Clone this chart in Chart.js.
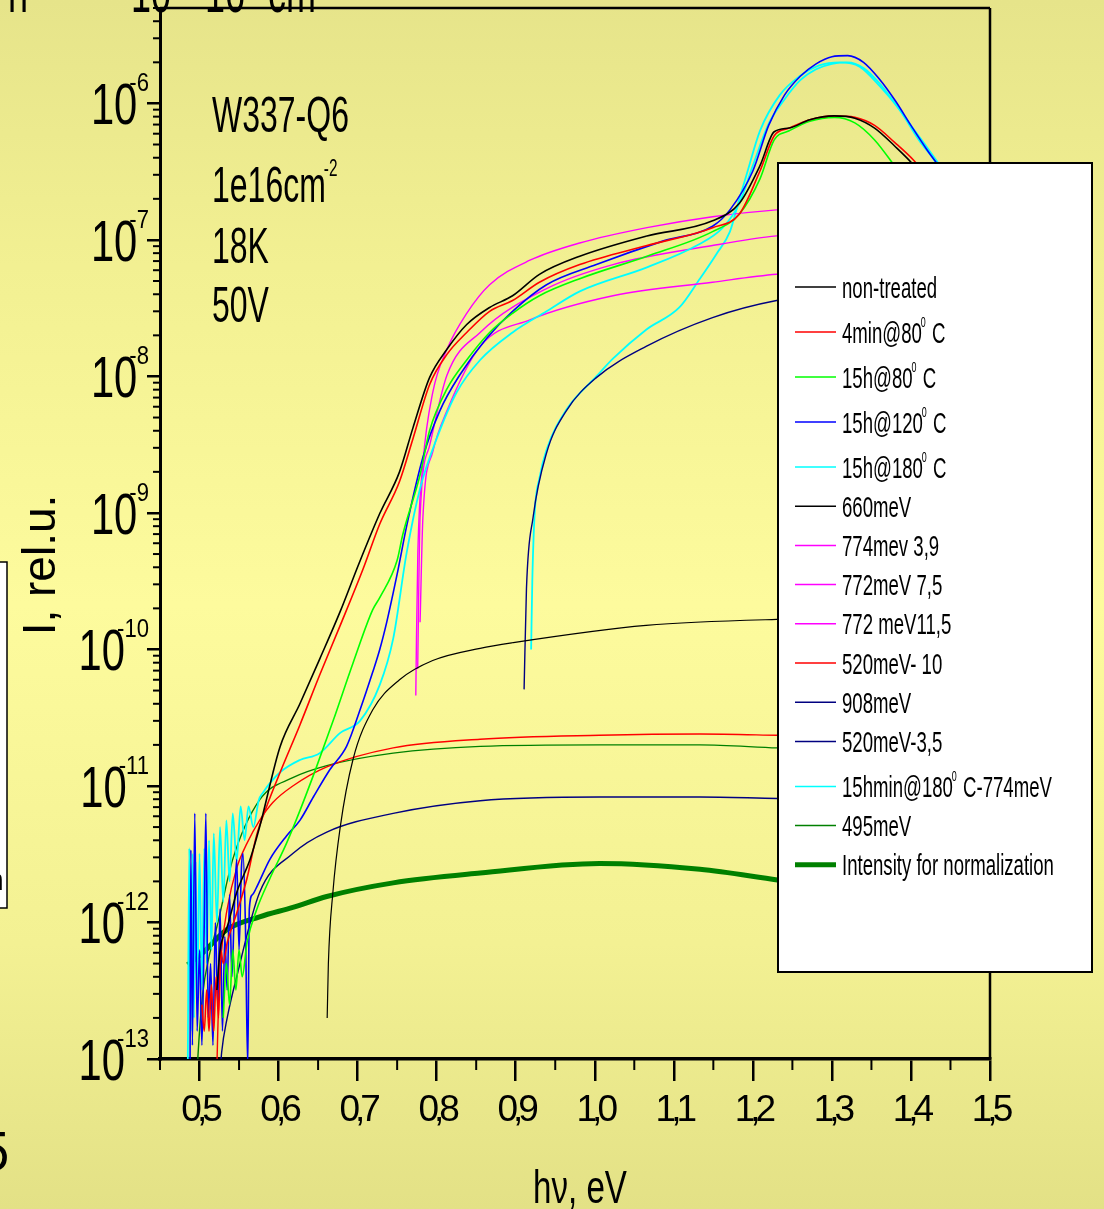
<!DOCTYPE html>
<html>
<head>
<meta charset="utf-8">
<title>W337-Q6 photocurrent spectra</title>
<script src="https://cdn.jsdelivr.net/npm/chart.js@4/dist/chart.umd.min.js"></script>
<style>
html, body { margin: 0; padding: 0; }
body {
  width: 1104px; height: 1209px; overflow: hidden;
  background: linear-gradient(to bottom, #e6e48a 0%, #f2f092 22%, #fdfb9d 50%, #f3f193 78%, #e3e186 100%);
}
canvas { display: block; }
</style>
</head>
<body>
<canvas id="spectra" width="1104" height="1209"></canvas>
<script>
// axis ticks
const xMajorTicks = [0.5, 0.6, 0.7, 0.8, 0.9, 1.0, 1.1, 1.2, 1.3, 1.4, 1.5];
const xTickLabels = ['0,5', '0,6', '0,7', '0,8', '0,9', '1,0', '1,1', '1,2', '1,3', '1,4', '1,5'];
const xMinorTicks = [0.45, 0.55, 0.65, 0.75, 0.85, 0.95, 1.05, 1.15, 1.25, 1.35, 1.45];
const yDecades = [1e-6, 1e-7, 1e-8, 1e-9, 1e-10, 1e-11, 1e-12, 1e-13];
const yDecadeSup = ['-6', '-7', '-8', '-9', '-10', '-11', '-12', '-13'];

const sampleNotes = ['W337-Q6', '1e16cm^{-2}', '18K', '50V'];

// measured spectra (hv in eV, intensity in rel. units)
const nonTreatedE = [0.522, 0.526, 0.530, 0.535, 0.547, 0.564, 0.576, 0.602, 0.627, 0.652, 0.678, 0.702, 0.728, 0.753, 0.770, 0.791, 0.813, 0.838, 0.867, 0.896, 0.930, 0.981, 1.066, 1.149, 1.183, 1.209, 1.227, 1.246, 1.272, 1.303, 1.329, 1.354, 1.379, 1.404, 1.43, 1.46];
const nonTreatedI = [3.2e-13, 6.3e-13, 7.9e-13, 9.3e-13, 1.66e-12, 2.9e-12, 5.0e-12, 1.95e-11, 4.0e-11, 8.5e-11, 1.9e-10, 4.3e-10, 9.9e-10, 2.0e-9, 4.2e-9, 9.8e-9, 1.58e-8, 2.4e-8, 3.2e-8, 3.9e-8, 5.6e-8, 7.6e-8, 1.07e-7, 1.38e-7, 1.86e-7, 3.5e-7, 6.2e-7, 6.6e-7, 7.6e-7, 8.1e-7, 7.8e-7, 6.6e-7, 4.9e-7, 3.5e-7, 2.2e-7, 1.26e-7];

const min4at80E = [0.503, 0.506, 0.509, 0.512, 0.515, 0.518, 0.521, 0.524, 0.527, 0.530, 0.535, 0.547, 0.560, 0.572, 0.585, 0.602, 0.627, 0.652, 0.678, 0.707, 0.728, 0.753, 0.770, 0.791, 0.813, 0.838, 0.867, 0.896, 0.930, 0.981, 1.066, 1.149, 1.183, 1.209, 1.227, 1.246, 1.272, 1.303, 1.329, 1.354, 1.379, 1.404, 1.43, 1.46];
const min4at80I = [2.5e-13, 1.6e-13, 3.2e-13, 1.6e-13, 3.5e-13, 1.6e-13, 4.0e-13, 2.0e-13, 6.3e-13, 5.0e-13, 7.1e-13, 1.17e-12, 2.1e-12, 4.3e-12, 7.1e-12, 1.26e-11, 2.8e-11, 6.5e-11, 1.5e-10, 3.9e-10, 8.3e-10, 1.7e-9, 3.5e-9, 8.7e-9, 1.45e-8, 2.1e-8, 3.0e-8, 3.6e-8, 4.9e-8, 6.6e-8, 9.1e-8, 1.23e-7, 1.55e-7, 3.2e-7, 5.8e-7, 6.6e-7, 7.6e-7, 8.1e-7, 7.9e-7, 6.9e-7, 5.2e-7, 3.8e-7, 2.5e-7, 1.4e-7];

const h15at80E = [0.530, 0.534, 0.538, 0.542, 0.546, 0.550, 0.554, 0.560, 0.572, 0.589, 0.610, 0.627, 0.648, 0.669, 0.694, 0.719, 0.728, 0.750, 0.757, 0.779, 0.791, 0.813, 0.838, 0.867, 0.896, 0.930, 0.981, 1.066, 1.149, 1.183, 1.209, 1.227, 1.246, 1.272, 1.303, 1.329, 1.354, 1.379, 1.404];
const h15at80I = [2.0e-13, 5.0e-13, 2.5e-13, 6.3e-13, 3.2e-13, 6.3e-13, 4.0e-13, 7.1e-13, 1.23e-12, 2.1e-12, 3.8e-12, 6.6e-12, 1.38e-11, 3.0e-11, 7.9e-11, 1.95e-10, 2.4e-10, 4.5e-10, 6.9e-10, 1.9e-9, 4.0e-9, 8.1e-9, 1.32e-8, 2.1e-8, 2.9e-8, 3.9e-8, 5.2e-8, 7.6e-8, 1.15e-7, 1.55e-7, 2.8e-7, 5.4e-7, 6.3e-7, 7.4e-7, 7.9e-7, 7.2e-7, 5.4e-7, 3.5e-7, 2.2e-7];

const h15at120E = [0.488, 0.489, 0.491, 0.494, 0.497, 0.500, 0.503, 0.506, 0.508, 0.511, 0.514, 0.517, 0.520, 0.523, 0.526, 0.529, 0.532, 0.535, 0.538, 0.541, 0.544, 0.547, 0.550, 0.553, 0.555, 0.558, 0.561, 0.563, 0.567, 0.572, 0.589, 0.610, 0.627, 0.644, 0.665, 0.686, 0.703, 0.719, 0.728, 0.737, 0.745, 0.751, 0.762, 0.783, 0.804, 0.829, 0.863, 0.896, 0.939, 1.002, 1.086, 1.149, 1.171, 1.20, 1.22, 1.24, 1.26, 1.28, 1.30, 1.32, 1.34, 1.36, 1.38, 1.40, 1.42, 1.44];
const h15at120I = [7.9e-14, 3.4e-12, 1.26e-13, 6.3e-12, 1.6e-13, 6.3e-13, 1.26e-13, 1.0e-12, 6.3e-12, 2.0e-13, 5.0e-13, 1.26e-13, 1.0e-12, 2.5e-13, 1.26e-12, 1.6e-13, 7.9e-13, 3.2e-13, 1.6e-12, 4.0e-13, 1.26e-12, 2.9e-12, 6.3e-13, 2.5e-12, 3.2e-12, 1.0e-12, 8.9e-14, 1.26e-12, 1.6e-12, 1.8e-12, 2.9e-12, 4.3e-12, 5.6e-12, 8.3e-12, 1.32e-11, 1.95e-11, 3.6e-11, 6.8e-11, 1.0e-10, 1.6e-10, 2.6e-10, 3.8e-10, 8.0e-10, 2.6e-9, 5.6e-9, 1.02e-8, 1.9e-8, 3.0e-8, 4.7e-8, 6.6e-8, 9.8e-8, 1.26e-7, 1.66e-7, 3.2e-7, 6.9e-7, 1.15e-6, 1.58e-6, 1.95e-6, 2.2e-6, 2.24e-6, 2.0e-6, 1.51e-6, 1.05e-6, 6.9e-7, 4.6e-7, 3.2e-7];

const h15at180E = [0.485, 0.487, 0.489, 0.491, 0.493, 0.495, 0.497, 0.500, 0.503, 0.506, 0.509, 0.512, 0.515, 0.518, 0.522, 0.526, 0.530, 0.534, 0.538, 0.542, 0.547, 0.552, 0.557, 0.562, 0.568, 0.575, 0.580, 0.602, 0.627, 0.652, 0.678, 0.703, 0.728, 0.745, 0.762, 0.779, 0.800, 0.825, 0.855, 0.896, 0.939, 0.981, 1.066, 1.129, 1.162, 1.183, 1.20, 1.22, 1.24, 1.26, 1.28, 1.30, 1.32, 1.34, 1.36, 1.38, 1.40, 1.42, 1.44];
const h15at180I = [6.3e-14, 3.5e-12, 1.6e-13, 3.2e-12, 2.0e-13, 2.8e-12, 2.5e-13, 3.2e-12, 3.2e-13, 3.5e-12, 5.0e-13, 4.0e-12, 6.3e-13, 4.5e-12, 1.0e-12, 5.0e-12, 1.41e-12, 5.6e-12, 2.0e-12, 6.3e-12, 2.8e-12, 7.1e-12, 4.0e-12, 7.1e-12, 5.0e-12, 7.9e-12, 8.9e-12, 1.26e-11, 1.55e-11, 1.74e-11, 2.45e-11, 3.0e-11, 5.5e-11, 1.2e-10, 5.1e-10, 1.51e-9, 3.5e-9, 7.6e-9, 1.32e-8, 2.1e-8, 3.0e-8, 4.2e-8, 6.3e-8, 9.1e-8, 1.23e-7, 1.86e-7, 3.5e-7, 7.1e-7, 1.07e-6, 1.48e-6, 1.78e-6, 1.95e-6, 2.0e-6, 1.82e-6, 1.41e-6, 1.0e-6, 6.9e-7, 4.8e-7, 3.3e-7];

// fitted components
const fit660E = [0.6615, 0.663, 0.6687, 0.678, 0.694, 0.719, 0.753, 0.795, 0.855, 0.896, 1.065, 1.23, 1.40];
const fit660I = [2.0e-13, 5.0e-13, 1.66e-12, 5.0e-12, 1.55e-11, 3.6e-11, 6.0e-11, 8.3e-11, 1.02e-10, 1.12e-10, 1.5e-10, 1.66e-10, 1.7e-10];

const fit774E = [0.7736, 0.7745, 0.7762, 0.7826, 0.795, 0.813, 0.838, 0.867, 0.918, 0.981, 1.066, 1.149, 1.23, 1.40];
const fit774I = [4.6e-11, 1.26e-10, 5.1e-10, 2.3e-9, 7.6e-9, 1.58e-8, 2.9e-8, 4.7e-8, 7.1e-8, 9.5e-8, 1.23e-7, 1.48e-7, 1.66e-7, 1.86e-7];

const fit772aE = [0.776, 0.7775, 0.779, 0.791, 0.813, 0.855, 0.939, 1.023, 1.149, 1.23, 1.40];
const fit772aI = [7.2e-11, 3.2e-10, 9.3e-10, 3.1e-9, 1.02e-8, 2.1e-8, 4.4e-8, 6.6e-8, 9.1e-8, 1.07e-7, 1.2e-7];

const fit772bE = [0.779, 0.7826, 0.795, 0.813, 0.855, 0.918, 1.023, 1.149, 1.23, 1.40];
const fit772bI = [1.58e-10, 9.3e-10, 2.8e-9, 5.6e-9, 1.66e-8, 2.6e-8, 3.9e-8, 4.9e-8, 5.6e-8, 6.2e-8];

const fit520aE = [0.522, 0.524, 0.528, 0.535, 0.547, 0.560, 0.576, 0.593, 0.618, 0.661, 0.745, 0.855, 1.006, 1.133, 1.231, 1.40];
const fit520aI = [8.9e-14, 2.5e-13, 6.3e-13, 1.26e-12, 2.5e-12, 3.8e-12, 5.6e-12, 7.6e-12, 1.0e-11, 1.38e-11, 1.9e-11, 2.2e-11, 2.35e-11, 2.4e-11, 2.35e-11, 2.24e-11];

const fit908E = [0.9106, 0.9136, 0.922, 0.939, 0.964, 1.002, 1.065, 1.149, 1.23, 1.40];
const fit908I = [5.1e-11, 2.8e-10, 9.3e-10, 2.75e-9, 5.6e-9, 9.8e-9, 1.66e-8, 2.7e-8, 3.6e-8, 4.7e-8];

const fit520bE = [0.526, 0.528, 0.535, 0.547, 0.576, 0.618, 0.661, 0.745, 0.855, 1.006, 1.133, 1.231, 1.40];
const fit520bI = [7.9e-14, 1.12e-13, 2.0e-13, 4.0e-13, 1.66e-12, 3.2e-12, 4.6e-12, 6.3e-12, 7.8e-12, 8.3e-12, 8.3e-12, 8.1e-12, 7.9e-12];

const diff180E = [0.9195, 0.921, 0.924, 0.930, 0.939, 0.964, 1.002, 1.023, 1.065, 1.107, 1.133, 1.154, 1.171, 1.183, 1.192, 1.209, 1.234, 1.259, 1.284, 1.31, 1.335, 1.36, 1.386, 1.41, 1.43, 1.45];
const diff180I = [1.0e-10, 3.2e-10, 1.0e-9, 1.8e-9, 2.9e-9, 5.7e-9, 1.0e-8, 1.35e-8, 2.2e-8, 3.2e-8, 5.2e-8, 7.9e-8, 1.15e-7, 2.0e-7, 3.0e-7, 6.3e-7, 1.15e-6, 1.58e-6, 1.9e-6, 2.0e-6, 1.86e-6, 1.35e-6, 8.9e-7, 5.4e-7, 3.8e-7, 2.5e-7];

const fit495E = [0.497, 0.498, 0.504, 0.512, 0.522, 0.542, 0.576, 0.618, 0.661, 0.745, 0.855, 1.006, 1.133, 1.231, 1.40];
const fit495I = [7.9e-14, 1.05e-13, 3.0e-13, 5.6e-13, 9.3e-13, 2.9e-12, 7.9e-12, 1.15e-11, 1.41e-11, 1.74e-11, 1.95e-11, 2.0e-11, 2.0e-11, 1.9e-11, 1.78e-11];

const normE = [0.485, 0.504, 0.535, 0.576, 0.618, 0.661, 0.745, 0.855, 1.006, 1.133, 1.231, 1.35];
const normI = [4.9e-13, 6.0e-13, 8.9e-13, 1.1e-12, 1.29e-12, 1.55e-12, 1.95e-12, 2.3e-12, 2.7e-12, 2.45e-12, 2.05e-12, 1.66e-12];

const FONT = '"Liberation Sans", Arial, sans-serif';
Chart.defaults.font.family = FONT;

function series(label, e, v, color, width) {
  return {
    label: label,
    data: e.map((x, i) => ({ x: x, y: v[i] })),
    borderColor: color,
    backgroundColor: color,
    borderWidth: width,
    pointRadius: 0,
    fill: false,
    cubicInterpolationMode: 'monotone'
  };
}

const datasets = [
  series('non-treated', nonTreatedE, nonTreatedI, '#000000', 1.6),
  series('4min@80^{0} C', min4at80E, min4at80I, '#ff0000', 1.6),
  series('15h@80^{0} C', h15at80E, h15at80I, '#00ff00', 1.6),
  series('15h@120^{0} C', h15at120E, h15at120I, '#0000ff', 1.6),
  series('15h@180^{0} C', h15at180E, h15at180I, '#00ffff', 1.8),
  series('660meV', fit660E, fit660I, '#000000', 1.2),
  series('774mev 3,9', fit774E, fit774I, '#ff00ff', 1.4),
  series('772meV 7,5', fit772aE, fit772aI, '#ff00ff', 1.4),
  series('772 meV11,5', fit772bE, fit772bI, '#ff00ff', 1.4),
  series('520meV- 10', fit520aE, fit520aI, '#ff0000', 1.4),
  series('908meV', fit908E, fit908I, '#000080', 1.4),
  series('520meV-3,5', fit520bE, fit520bI, '#000080', 1.4),
  series('15hmin@180^{0} C-774meV', diff180E, diff180I, '#00ffff', 1.8),
  series('495meV', fit495E, fit495I, '#008000', 1.4),
  series('Intensity for normalization', normE, normI, '#008000', 5)
];

// text squeezed horizontally, returns drawn width
function squeezed(ctx, text, x, y, size, sx, align) {
  ctx.save();
  ctx.font = size + 'px ' + FONT;
  ctx.letterSpacing = '0px';
  ctx.textBaseline = 'alphabetic';
  ctx.textAlign = align || 'left';
  ctx.fillStyle = '#000';
  ctx.translate(x, y);
  ctx.scale(sx, 1);
  ctx.fillText(text, 0, 0);
  const w = ctx.measureText(text).width * sx;
  ctx.restore();
  return w;
}

// text with ^{...} superscripts
function rich(ctx, str, x, y, size, sx) {
  const parts = str.split(/\^\{([^}]*)\}/);
  let cx = x;
  parts.forEach((p, i) => {
    if (!p) return;
    if (i % 2) cx += squeezed(ctx, p, cx - size * 0.04, y - size * 0.52, size * 0.48, sx);
    else cx += squeezed(ctx, p, cx, y, size, sx);
  });
}

function seg(ctx, x1, y1, x2, y2) {
  ctx.beginPath();
  ctx.moveTo(x1, y1);
  ctx.lineTo(x2, y2);
  ctx.stroke();
}

const decor = {
  id: 'decor',
  beforeDraw(chart) {
    const ctx = chart.ctx;
    // pieces of the surrounding slide, cut off at the edges
    squeezed(ctx, 'n', 8, 12, 60, 0.6);
    squeezed(ctx, '10', 131, 12, 60, 0.6);
    squeezed(ctx, '16', 205, 12, 60, 0.6);
    squeezed(ctx, 'cm', 268, 12, 60, 0.6);
    ctx.save();
    ctx.fillStyle = '#fff';
    ctx.strokeStyle = '#000';
    ctx.lineWidth = 1.5;
    ctx.fillRect(-20, 562, 27, 346);
    ctx.strokeRect(-20, 562, 27, 346);
    ctx.restore();
    squeezed(ctx, 'n', -10, 890, 30, 0.8);
    squeezed(ctx, '5', -19, 1170, 56, 0.9);
    // tight spacing for the x tick labels
    ctx.letterSpacing = '-5px';
  },
  afterDraw(chart) {
    const ctx = chart.ctx;
    const xs = chart.scales.x, ys = chart.scales.y, a = chart.chartArea;
    ctx.save();
    ctx.letterSpacing = '0px';
    ctx.strokeStyle = '#000';

    // top and right frame
    ctx.lineWidth = 2.5;
    seg(ctx, a.left, a.top, a.right, a.top);
    seg(ctx, a.right, a.top, a.right, a.bottom);

    // minor ticks
    ctx.lineWidth = 2;
    xMinorTicks.forEach(v => {
      const px = xs.getPixelForValue(v);
      seg(ctx, px, a.bottom, px, a.bottom + 11);
    });
    yDecades.forEach(d => {
      for (let m = 2; m <= 9; m++) {
        const v = m * d;
        if (v > ys.max) continue;
        const py = ys.getPixelForValue(v);
        seg(ctx, a.left - 7, py, a.left, py);
      }
    });

    // decade labels 10^-n
    yDecades.forEach((d, i) => {
      const py = ys.getPixelForValue(d);
      const right = a.left - 11;
      const sw = squeezed(ctx, yDecadeSup[i], right, py - 12, 26, 0.85, 'right');
      squeezed(ctx, '10', right - sw + 8, py + 21, 58, 0.72, 'right');
    });

    // axis titles
    squeezed(ctx, 'hν, eV', 580, 1203, 46, 0.72, 'center');
    ctx.save();
    ctx.translate(55, 565);
    ctx.rotate(-Math.PI / 2);
    squeezed(ctx, 'I, rel.u.', 0, 0, 46, 1, 'center');
    ctx.restore();

    // sample description
    const noteBase = [132, 202, 263, 322];
    sampleNotes.forEach((t, i) => rich(ctx, t, 212, noteBase[i], 50, 0.64));

    // legend box
    const lx = 778, ly = 163, lw = 314, lh = 809;
    ctx.fillStyle = '#fff';
    ctx.fillRect(lx, ly, lw, lh);
    ctx.lineWidth = 2;
    ctx.strokeRect(lx, ly, lw, lh);
    let row = 287;
    chart.data.datasets.forEach((ds, i) => {
      const sup = ds.label.indexOf('^{') >= 0;
      if (i > 0) row += 39.2 + (sup ? 5.8 : 0);
      ctx.strokeStyle = ds.borderColor;
      ctx.lineWidth = ds.borderWidth > 3 ? 5 : 1.5;
      seg(ctx, 795, row, 836, row);
      rich(ctx, ds.label, 842, row + 10.5, 30, 0.62);
    });
    ctx.restore();
  }
};

new Chart(document.getElementById('spectra'), {
  type: 'line',
  data: { datasets: datasets },
  options: {
    responsive: false,
    animation: false,
    layout: { padding: { left: 0, right: 114, top: 8, bottom: 0 } },
    plugins: { legend: { display: false }, tooltip: { enabled: false } },
    scales: {
      x: {
        type: 'linear',
        position: 'bottom',
        min: 0.45,
        max: 1.5,
        border: { display: true, color: '#000', width: 3.5 },
        grid: { display: true, drawOnChartArea: false, drawTicks: true, tickLength: 22, color: '#000', lineWidth: 2.5 },
        ticks: {
          autoSkip: false,
          maxRotation: 0,
          padding: 8,
          color: '#000',
          font: { family: FONT, size: 37 },
          callback: (v, i) => xTickLabels[i]
        },
        afterBuildTicks: s => { s.ticks = xMajorTicks.map(v => ({ value: v })); },
        afterFit: s => { s.height = 150; }
      },
      y: {
        type: 'logarithmic',
        position: 'left',
        min: 1e-13,
        max: 5e-6,
        border: { display: true, color: '#000', width: 3 },
        grid: { display: true, drawOnChartArea: false, drawTicks: true, tickLength: 13, color: '#000', lineWidth: 2.5 },
        ticks: { display: false },
        afterBuildTicks: s => { s.ticks = yDecades.map(v => ({ value: v, major: true })); },
        afterFit: s => { s.width = 160; }
      }
    }
  },
  plugins: [decor]
});
</script>
</body>
</html>
